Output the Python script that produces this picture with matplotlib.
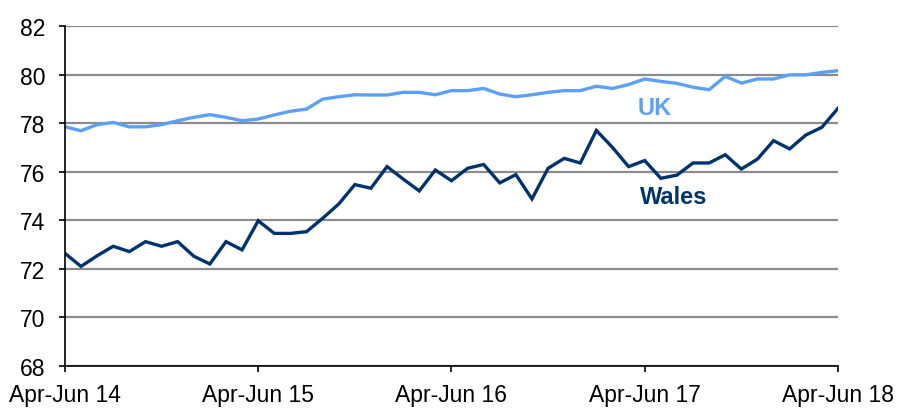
import matplotlib.pyplot as plt

plt.rcParams['font.family'] = ['Liberation Sans', 'DejaVu Sans']

# rolling three-month periods, Apr-Jun 14 .. Apr-Jun 18
tick_labels = ['Apr-Jun 14', 'Apr-Jun 15', 'Apr-Jun 16', 'Apr-Jun 17', 'Apr-Jun 18']

uk = [77.85, 77.69, 77.94, 78.03, 77.85, 77.85, 77.94, 78.10, 78.24, 78.35,
      78.24, 78.10, 78.17, 78.34, 78.49, 78.58, 78.99, 79.09, 79.17, 79.16,
      79.16, 79.27, 79.27, 79.17, 79.34, 79.34, 79.43, 79.20, 79.09, 79.17,
      79.27, 79.34, 79.34, 79.52, 79.43, 79.59, 79.82, 79.72, 79.64, 79.48,
      79.38, 79.93, 79.65, 79.82, 79.82, 79.99, 79.99, 80.09, 80.16]

wales = [72.64, 72.10, 72.54, 72.93, 72.71, 73.12, 72.93, 73.12, 72.52, 72.20,
         73.12, 72.78, 73.98, 73.46, 73.46, 73.53, 74.08, 74.67, 75.47, 75.32,
         76.21, 75.70, 75.21, 76.07, 75.63, 76.14, 76.30, 75.54, 75.88, 74.88,
         76.14, 76.55, 76.36, 77.70, 77.00, 76.21, 76.46, 75.73, 75.86, 76.36,
         76.36, 76.70, 76.11, 76.52, 77.28, 76.94, 77.51, 77.83, 78.61]

x = list(range(len(uk)))

fig = plt.figure(figsize=(9.02, 4.10), dpi=100)
ax = fig.add_axes([0.072, 0.105, 0.857, 0.829])

ax.plot(x, uk, color='#5CA0F6', lw=2.4, solid_joinstyle='miter')
ax.plot(x, wales, color='#00336E', lw=2.4, solid_joinstyle='miter')

ax.set_xlim(0, 48)
ax.set_ylim(68, 82)
ax.set_yticks(range(68, 83, 2))
ax.set_xticks(range(0, 49, 12))
ax.set_xticklabels(tick_labels)
ax.yaxis.grid(True, color='#8C8C8C', lw=1.6)
ax.set_axisbelow(True)

for s in ['top', 'right']:
    ax.spines[s].set_visible(False)
for s in ['left', 'bottom']:
    ax.spines[s].set_color('black')
    ax.spines[s].set_linewidth(1.2)
ax.tick_params(axis='both', labelsize=16.5, color='black', length=4, width=1.2)
ax.tick_params(axis='y', pad=10)
ax.tick_params(axis='x', pad=8)

ax.text(36.6, 78.64, 'UK', color='#5CA0F6', fontsize=17, fontweight='bold',
        ha='center', va='center')
ax.text(37.8, 75.0, 'Wales', color='#00336E', fontsize=17, fontweight='bold',
        ha='center', va='center')

plt.savefig('out.png', dpi=100)
